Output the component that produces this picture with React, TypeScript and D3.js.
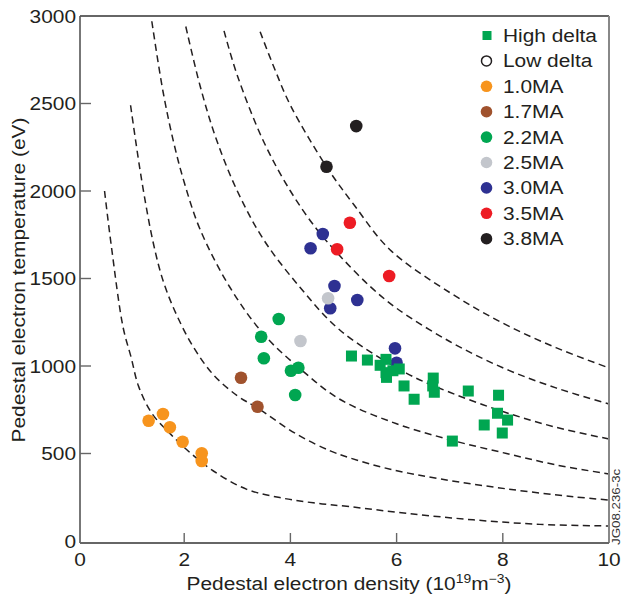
import * as d3 from 'd3';
import React from 'react';

// readings: [density (1e19 m^-3), temperature (eV)]
const ma10 = [[1.33, 687], [1.6, 726], [1.73, 650], [1.97, 567], [2.33, 501], [2.33, 457]];
const ma17 = [[3.07, 933], [3.38, 767]];
const ma22 = [[3.78, 1269], [3.45, 1167], [3.5, 1044], [4.01, 973], [4.15, 990], [4.09, 834]];
const ma30 = [[4.83, 1457], [4.75, 1330], [4.61, 1754], [4.38, 1673], [5.26, 1377], [5.97, 1101], [6.0, 1019]];
const ma25 = [[4.19, 1143], [4.71, 1387]];
const ma35 = [[4.88, 1667], [5.12, 1819], [5.86, 1514]];
const ma38 = [[5.24, 2371], [4.68, 2139]];
const highDelta = [
  [5.15, 1057], [5.45, 1034], [5.8, 1038], [5.69, 1004], [5.8, 962], [5.81, 935],
  [5.93, 973], [6.05, 983], [6.14, 886], [6.33, 810], [6.69, 931], [6.68, 886],
  [6.71, 850], [7.35, 857], [7.92, 833], [7.9, 730], [8.09, 691], [7.65, 663],
  [7.99, 617], [7.05, 571],
];

// dashed iso-pressure guides
const iso1 = [[0.5, 2000], [0.63, 1680], [0.85, 1220], [1.0, 1050], [1.14, 885], [1.39, 730], [1.73, 615], [2.11, 505], [2.55, 400], [3.18, 295], [3.8, 248], [4.43, 218], [5.12, 196], [6.19, 158], [7.44, 121], [8.7, 95], [10, 86]];
const iso2 = [[0.99, 2490], [1.2, 2060], [1.42, 1700], [1.61, 1480], [1.86, 1290], [2.17, 1110], [2.55, 950], [3.0, 830], [3.38, 760], [4.12, 610], [4.75, 515], [5.12, 475], [5.88, 410], [6.82, 355], [8.07, 298], [9.33, 253], [10, 234]];
const iso3 = [[1.39, 2970], [1.6, 2570], [1.8, 2280], [2.0, 2050], [2.3, 1780], [2.86, 1450], [3.5, 1180], [4.2, 980], [4.93, 810], [6.0, 670], [7.05, 575], [8.07, 500], [9.0, 435], [10, 383]];
const iso4 = [[2.03, 2940], [2.3, 2600], [2.6, 2300], [3.0, 2000], [3.5, 1720], [4.18, 1450], [4.93, 1206], [6.19, 958], [7, 850], [8, 740], [9, 650], [10, 583]];
const iso5 = [[2.75, 2915], [3.0, 2660], [3.5, 2280], [4.0, 2000], [4.5, 1780], [4.93, 1630], [5.5, 1455], [6, 1330], [7, 1140], [8, 990], [9, 875], [10, 783]];
const iso6 = [[3.43, 2910], [3.7, 2700], [4.0, 2490], [4.68, 2139], [5.2, 1920], [5.88, 1663], [7, 1420], [8, 1245], [9, 1105], [10, 989]];

const xTicks = [0, 2, 4, 6, 8, 10];
const yTicks = [0, 500, 1000, 1500, 2000, 2500, 3000];

const legendLabels = ['High delta', 'Low delta', '1.0MA', '1.7MA', '2.2MA', '2.5MA', '3.0MA', '3.5MA', '3.8MA'];
const legendColors = ['#00a651', 'none', '#f7941d', '#a0522d', '#00a651', '#c3c6cc', '#2e3192', '#ed1c24', '#231f20'];

const circleSeries: [number[][], string][] = [
  [ma10, '#f7941d'],
  [ma17, '#a0522d'],
  [ma22, '#00a651'],
  [ma30, '#2e3192'],
  [ma25, '#c3c6cc'],
  [ma35, '#ed1c24'],
  [ma38, '#231f20'],
];

const FONT = '"Liberation Sans", Arial, sans-serif';
const INK = '#231f20';

const Txt = ({ x, y, anchor = 'start', size = 18, rotate = 0, fill = INK, children }: any) => (
  <text
    transform={`translate(${x},${y})${rotate ? ` rotate(${rotate})` : ''} scale(1.16,1)`}
    textAnchor={anchor}
    fontSize={size}
    fontFamily={FONT}
    fill={fill}
  >
    {children}
  </text>
);

const App = () => {
  const x = d3.scaleLinear().domain([0, 10]).range([78, 609]);
  const y = d3.scaleLinear().domain([0, 3000]).range([541, 16]);
  const line = d3
    .line<number[]>()
    .x(d => x(d[0]))
    .y(d => y(d[1]))
    .curve(d3.curveCatmullRom.alpha(0.5));

  const left = 80;
  const bottom = 543;
  const top = y(3000);
  const right = 609;

  return (
    <svg
      width={623}
      height={599}
      style={{ position: 'absolute', left: 0, top: 0, background: '#fff' }}
    >
      {/* dashed guide curves */}
      {[iso1, iso2, iso3, iso4, iso5, iso6].map((c, i) => (
        <path key={i} d={line(c)} fill="none" stroke={INK} strokeWidth={1.5} strokeDasharray="7,4.5" />
      ))}

      {/* frame */}
      <line x1={left} x2={right} y1={top} y2={top} stroke="#333" strokeWidth={1.4} />
      <line x1={right} x2={right} y1={top} y2={bottom} stroke="#888" strokeWidth={2} />
      <line x1={left} x2={left} y1={top} y2={bottom} stroke="#555" strokeWidth={1.6} />
      <line x1={left} x2={right} y1={bottom} y2={bottom} stroke="#666" strokeWidth={1.8} />

      {/* ticks */}
      {yTicks.slice(1, -1).map(t => (
        <line key={t} x1={left} x2={left + 11} y1={y(t)} y2={y(t)} stroke="#666" strokeWidth={1.4} />
      ))}
      {xTicks.slice(1, -1).map(t => (
        <line key={t} x1={x(t)} x2={x(t)} y1={bottom} y2={bottom - 10} stroke="#666" strokeWidth={1.4} />
      ))}

      {/* tick labels */}
      {yTicks.map(t => (
        <Txt key={t} x={76} y={y(t) + 6.5} anchor="end">{t}</Txt>
      ))}
      {xTicks.map(t => (
        <Txt key={t} x={t === 0 ? 80 : x(t)} y={566} anchor="middle">{t}</Txt>
      ))}

      {/* axis titles */}
      <Txt x={349} y={590} anchor="middle">
        Pedestal electron density (10
        <tspan fontSize={12} dy={-7}>19</tspan>
        <tspan dy={7}>m</tspan>
        <tspan fontSize={12} dy={-7}>−3</tspan>
        <tspan dy={7}>)</tspan>
      </Txt>
      <Txt x={25} y={280} anchor="middle" rotate={-90}>Pedestal electron temperature (eV)</Txt>
      <Txt x={620} y={545} size={11.5} rotate={-90} fill="#333">JG08.236-3c</Txt>

      {/* data */}
      {circleSeries.map(([pts, col], i) => (
        <g key={i}>
          {pts.map((p, j) => (
            <circle key={j} cx={x(p[0])} cy={y(p[1])} r={6.3} fill={col} />
          ))}
        </g>
      ))}
      {highDelta.map((p, j) => (
        <rect key={j} x={x(p[0]) - 5.5} y={y(p[1]) - 5.5} width={11} height={11} fill="#00a651" />
      ))}

      {/* legend */}
      {legendLabels.map((lab, i) => {
        const cy = 35.5 + i * 25.4;
        return (
          <g key={lab}>
            {i === 0 ? (
              <rect x={482.5} y={cy - 4.5} width={9} height={9} fill={legendColors[i]} />
            ) : i === 1 ? (
              <circle cx={486.5} cy={cy} r={5} fill="#fff" stroke={INK} strokeWidth={1.5} />
            ) : (
              <circle cx={486.5} cy={cy} r={5.8} fill={legendColors[i]} />
            )}
            <Txt x={503} y={cy + 6.5}>{lab}</Txt>
          </g>
        );
      })}
    </svg>
  );
};

export default App;
